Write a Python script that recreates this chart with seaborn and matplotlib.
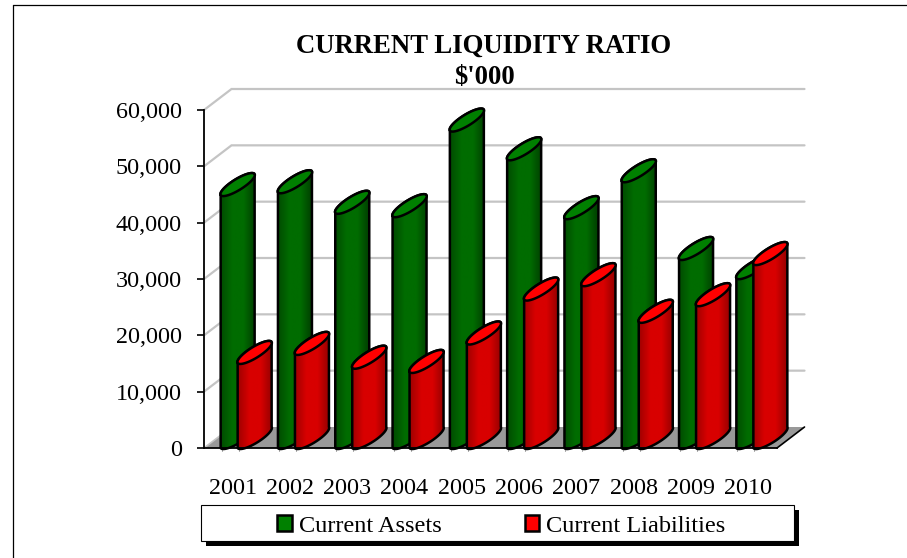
import numpy as np
import pandas as pd
import matplotlib
matplotlib.use("Agg")
import matplotlib.pyplot as plt
import seaborn as sns
from matplotlib.colors import LinearSegmentedColormap
from matplotlib.lines import Line2D
from matplotlib.patches import PathPatch, Patch, Polygon, Rectangle
from matplotlib.path import Path

years = ["2001", "2002", "2003", "2004", "2005", "2006", "2007", "2008", "2009", "2010"]
current_assets = [44900, 45400, 41750, 41150, 56350, 51250, 40800, 47350, 33550, 30150]
current_liabilities = [15100, 16700, 14250, 13500, 18550, 26350, 28900, 22400, 25350, 32650]
y_ticks = [0, 10000, 20000, 30000, 40000, 50000, 60000]

W, H = 907, 558

sns.set_theme(style="white")
plt.rcParams["font.family"] = ["Liberation Serif", "DejaVu Serif"]

df = pd.DataFrame({
    "year": years * 2,
    "value": current_assets + current_liabilities,
    "series": ["Current Assets"] * 10 + ["Current Liabilities"] * 10,
})

fig = plt.figure(figsize=(W / 100, H / 100), dpi=100, facecolor="white")
ax = fig.add_axes([204 / W, 1 - 448 / H, 573 / W, 338 / H])
sns.barplot(data=df, x="year", y="value", hue="series", dodge=True, width=34 / 57.3,
            legend=False, ax=ax)
ax.set_xlim(-0.5, 9.5)
ax.set_ylim(0, 60000)
ax.set_xlabel("")
ax.set_ylabel("")

# pixel sizes expressed in data units
px_x = 10 / 573
px_y = 60000 / 338
depth_x = 27.5 * px_x
depth_y = 21 * px_y

# floor and back wall
ax.add_patch(Polygon([(-0.5, 0), (-0.5 + depth_x, depth_y), (9.5 + depth_x, depth_y), (9.5, 0)],
                     closed=True, facecolor="#999999", edgecolor="none", zorder=1, clip_on=False))
for t in y_ticks[1:]:
    ax.plot([-0.5, -0.5 + depth_x, 9.5 + depth_x], [t, t + depth_y, t + depth_y],
            color="#c4c4c4", lw=1.6, zorder=0.5, clip_on=False, solid_joinstyle="miter")
ax.plot([-0.5, -0.5 + depth_x], [0, depth_y], color="#c4c4c4", lw=1.2, zorder=1.1, clip_on=False)
ax.plot([9.5, 9.5 + depth_x], [0, depth_y], color="black", lw=1.2, zorder=1.2, clip_on=False)

shades = {
    0: (["#004c00", "#006c00", "#006c00", "#004000"], "#008000"),
    1: (["#a00000", "#d80000", "#d80000", "#980000"], "#ff0000"),
}


def ellipse_pts(cx, cy, a, b, start, stop, n=60):
    # tilted ellipse, major axis runs lower left to upper right
    t = np.linspace(start, stop, n)
    xs = cx + np.cos(t) * a[0] + np.sin(t) * b[0]
    ys = cy + np.cos(t) * a[1] + np.sin(t) * b[1]
    return np.column_stack([xs, ys])


def draw_cylinder(left, width, value, hue_idx, z):
    stops, cap_color = shades[hue_idx]
    half_x = width / 2
    half_y = depth_y / 2
    a = (half_x, half_y)
    b = (-5.6 * 0.5 * px_x, 5.6 * 0.85 * px_y)
    cx = left + half_x
    top_y = value + half_y
    bottom_y = half_y

    lower = ellipse_pts(cx, bottom_y, a, b, np.pi, 2 * np.pi)
    verts = np.vstack([
        [(left, value)],
        ellipse_pts(cx, top_y, a, b, np.pi, 0)[1:],
        lower[::-1],
    ])
    outline = Path(np.vstack([verts, verts[:1]]))
    ax.add_patch(PathPatch(outline, facecolor="none", edgecolor="black", lw=1.8,
                           zorder=z + 0.2, clip_on=False, joinstyle="round"))

    cmap = LinearSegmentedColormap.from_list("shade", stops)
    im = ax.imshow(np.linspace(0, 1, 64).reshape(1, -1), cmap=cmap, aspect="auto",
                   extent=(left, left + width, -depth_y, value + 2 * depth_y),
                   zorder=z, origin="lower")
    im.set_clip_box(fig.bbox)
    im.set_clip_path(PathPatch(outline, transform=ax.transData))

    cap = PathPatch(Path(ellipse_pts(cx, top_y, a, b, 0, 2 * np.pi)), facecolor=cap_color,
                    edgecolor="black", lw=1.8, zorder=z + 0.3, clip_on=False)
    ax.add_patch(cap)


shift = 5 * px_x
z = 3
bars = [list(c.patches) for c in ax.containers]
for i in range(len(years)):
    for h in range(2):
        bar = bars[h][i]
        bar.set_visible(False)
        left = bar.get_x() + shift
        draw_cylinder(left, bar.get_width() * 2, bar.get_height(), h, z)
        ax.plot([left + px_x, left + px_x], [0, -3 * px_y], color="#aaaaaa", lw=0.8,
                clip_on=False, zorder=2)
        z += 1

ax.set_xlim(-0.5, 9.5)
ax.set_ylim(0, 60000)
ax.set_yticks(y_ticks)
ax.set_yticklabels([f"{t:,}" for t in y_ticks])
ax.tick_params(axis="y", length=5, width=1.2, color="black", pad=11, labelsize=17.4,
               labelcolor="black", left=True)
ax.tick_params(axis="x", length=0, pad=21.5, labelsize=17.4, labelcolor="black")
for lab in ax.get_yticklabels():
    lab.set_y(lab.get_position()[1])
sns.despine(ax=ax, top=True, right=True)
for side in ["left", "bottom"]:
    ax.spines[side].set_color("black")
    ax.spines[side].set_linewidth(1.3)
    ax.spines[side].set_zorder(50)
ax.patch.set_alpha(0)

fig.text(484 / W, 1 - 46 / H, "CURRENT LIQUIDITY RATIO", ha="center", va="center",
         fontsize=19.3, fontweight="bold", color="black")
fig.text(484 / W, 1 - 77 / H, "$'000", ha="center", va="center",
         fontsize=19.3, fontweight="bold", color="black", parse_math=False)

# outer chart frame, only left and top are in the picture
fig.add_artist(Line2D([12.5 / W, 12.5 / W], [0, 1 - 5 / H], color="black", lw=0.9))
fig.add_artist(Line2D([12.5 / W, 1], [1 - 5 / H, 1 - 5 / H], color="black", lw=0.9))

# legend box with hard shadow
fig.add_artist(Rectangle((206 / W, 1 - 546 / H), 593 / W, 36 / H, transform=fig.transFigure,
                         facecolor="black", edgecolor="black", lw=0))
fig.add_artist(Rectangle((201 / W, 1 - 541 / H), 593 / W, 36 / H, transform=fig.transFigure,
                         facecolor="white", edgecolor="black", lw=0.8))
handles = [Patch(facecolor="#008000", edgecolor="black", lw=1.8),
           Patch(facecolor="#ff0000", edgecolor="black", lw=1.8)]
leg = fig.legend(handles, ["Current Assets", "Current Liabilities"], ncol=2, frameon=False,
                 loc="center", bbox_to_anchor=(501.5 / W, 1 - 526 / H), fontsize=17.5,
                 handlelength=0.6, handleheight=0.6, handletextpad=0.3, columnspacing=3.4,
                 labelcolor="black")
leg.set_zorder(20)

fig.savefig("out.png", dpi=100, facecolor="white")
